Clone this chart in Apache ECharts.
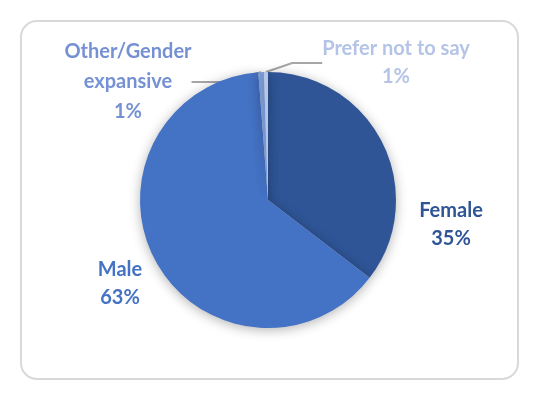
<!DOCTYPE html>
<html><head><meta charset="utf-8">
<script src="https://cdn.jsdelivr.net/npm/echarts@6/dist/echarts.min.js"></script>
<style>html,body{margin:0;padding:0;background:#fff}#c{width:538px;height:400px}</style>
</head><body><div id="c"></div>
<script>
const categories = ['Female', 'Male', 'Other/Gender\nexpansive', 'Prefer not to say'];
const values = [35.4, 63.4, 0.7, 0.5];
const sliceColors = ['#2F5597', '#4472C4', '#7F9DDB', '#B4C7E7'];
const labelColors = ['#2F5597', '#4472C4', '#7591D3', '#B4C4E6'];
// label anchor positions (centre of label text block)
const labelPos = [[451, 225], [120, 284], [128, 82], [396, 63]];

const chart = echarts.init(document.getElementById('c'));
chart.setOption({
  animation: false,
  graphic: [{
    type: 'rect', shape: {x: 21, y: 21, width: 497, height: 358, r: 16},
    style: {fill: 'none', stroke: '#d9d9d9', lineWidth: 2}
  }],
  series: [{
    type: 'pie',
    center: [268, 200],
    radius: 128,
    startAngle: 90,
    clockwise: true,
    percentPrecision: 0,
    avoidLabelOverlap: false,
    itemStyle: {borderWidth: 0, shadowBlur: 12, shadowColor: 'rgba(0,0,0,0.3)', shadowOffsetY: 2},
    label: {
      show: true, position: 'outside',
      formatter: '{b}\n{d}%',
      fontFamily: 'Lato', fontWeight: 'bold', fontSize: 20, lineHeight: 28,
      align: 'center'
    },
    labelLine: {show: false, lineStyle: {color: '#A6A6A6', width: 2}},
    labelLayout: function (p) {
      const pos = labelPos[p.dataIndex];
      return {x: pos[0], y: pos[1], align: 'center', verticalAlign: 'middle'};
    },
    data: categories.map((c, i) => ({
      name: c, value: values[i],
      itemStyle: {color: sliceColors[i]},
      label: {color: labelColors[i], lineHeight: i === 2 ? 30 : 28},
      labelLine: {show: i >= 2}
    }))
  }]
});
</script></body></html>
